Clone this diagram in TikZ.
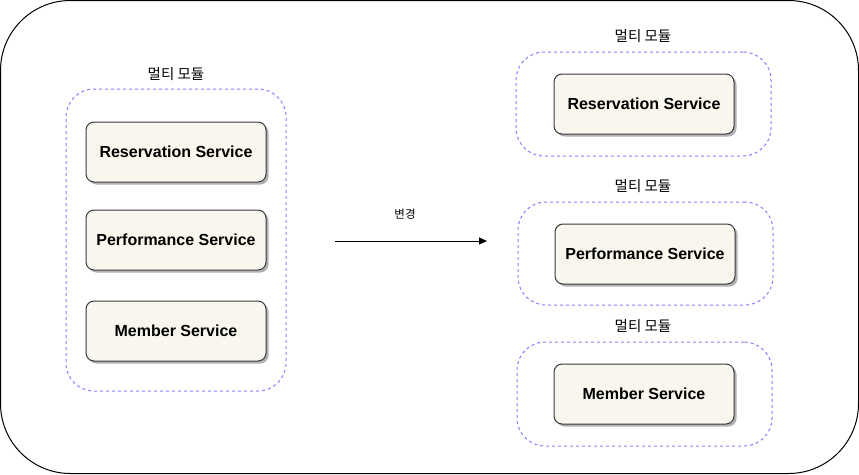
\documentclass[tikz,border=0pt]{standalone}
\usepackage{fontspec}
\setmainfont{Liberation Sans}
\newfontfamily\kofont{Noto Sans CJK KR}
\usetikzlibrary{positioning, shadows, arrows.meta}
\definecolor{xfill}{HTML}{F9F7ED}
\definecolor{xline}{HTML}{36393D}
\definecolor{xblue}{HTML}{8080FF}
\tikzset{
	arrow/.style={line width=1pt, -{Triangle[length=8pt, width=7pt]}},
	service/.style={draw=xline, fill=xfill, line width=1pt, rounded corners=8pt,
		minimum width=180pt, minimum height=60pt, inner sep=0pt,
		font=\bfseries\fontsize{16}{18}\selectfont,
		drop shadow={shadow xshift=2.5pt, shadow yshift=-2.5pt, fill=black, opacity=0.3}},
	module/.style={draw=xblue, line width=1pt, dash pattern=on 3pt off 3pt,
		rounded corners=28pt, inner sep=0pt},
	title/.style={font=\kofont\fontsize{14.5}{16}\selectfont},
	note/.style={font=\kofont\fontsize{11.5}{13}\selectfont},
}

\begin{document}
\begin{tikzpicture}[x=1pt, y=-1pt]
	\useasboundingbox (0,0) rectangle (859,474);
	\draw[line width=1pt, rounded corners=70pt] (0.5,0.5) rectangle (858.5,473.5);

	% left: one module
	\node[module, minimum width=220pt, minimum height=302pt] (M0) at (176,240) {};
	\node[title] (T0) at (176,74) {멀티 모듈};
	\node[service] (R0) at (176,152) {Reservation Service};
	\node[service] (P0) at (176,240) {Performance Service};
	\node[service] (B0) at (176,331) {Member Service};

	\coordinate (S) at (335,241);
	\coordinate (E) at (487,241);
	\draw[arrow] (S) -- (E);
	\node[note] (N) at (405,214) {변경};

	% right: separate modules
	\node[module, minimum width=255pt, minimum height=104pt] (M1) at (643.5,104) {};
	\node[title] (T1) at (643,36) {멀티 모듈};
	\node[service] (R1) at (644,104) {Reservation Service};

	\node[module, minimum width=255pt, minimum height=103pt] (M2) at (645.5,253.5) {};
	\node[title] (T2) at (643,186) {멀티 모듈};
	\node[service] (P1) at (645,254) {Performance Service};

	\node[module, minimum width=255pt, minimum height=104pt] (M3) at (644.5,394) {};
	\node[title] (T3) at (643,326) {멀티 모듈};
	\node[service] (B1) at (644,394) {Member Service};
\end{tikzpicture}
\end{document}
